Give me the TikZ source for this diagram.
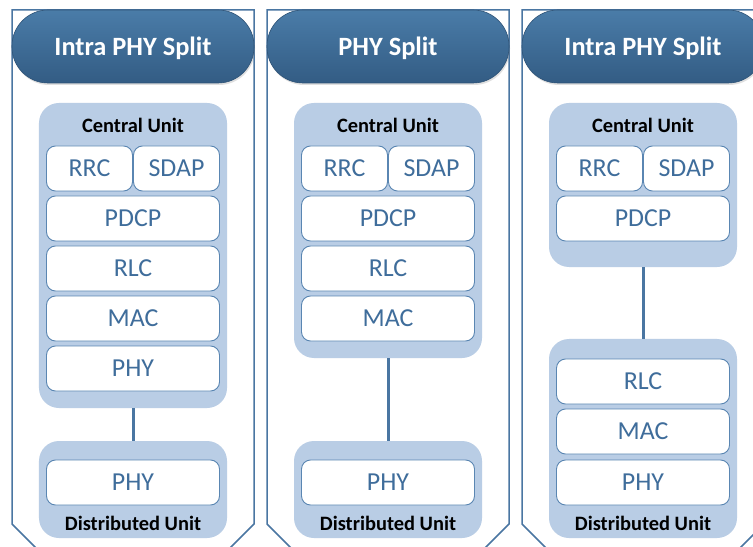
\documentclass[tikz,border=0pt]{standalone}
\usepackage{fontspec}
\setmainfont{Carlito}
\usetikzlibrary{shadows}

\definecolor{pilltop}{HTML}{4A7CA8}
\definecolor{pillbot}{HTML}{335C84}
\definecolor{panelline}{HTML}{4A76A2}
\definecolor{unitfill}{HTML}{B9CDE5}
\definecolor{cellline}{HTML}{5A86B2}
\definecolor{celltext}{HTML}{3F6D9B}

\begin{document}
\begin{tikzpicture}[x=1bp,y=-1bp,
  panel/.style={draw=panelline,line width=1.5bp},
  pill/.style={rectangle,rounded corners=36bp,minimum width=242bp,minimum height=73bp,
    top color=pilltop,bottom color=pillbot,draw=pillbot!90!black,line width=0.6bp,
    text=white,text depth=0pt,font=\fontsize{26.5}{31}\selectfont\bfseries,
    drop shadow={opacity=0.25,shadow xshift=1bp,shadow yshift=-2bp}},
  unit/.style={rectangle,rounded corners=20bp,fill=unitfill,minimum width=188bp,inner sep=0pt},
  unitlabel/.style={font=\fontsize{20.5}{24}\selectfont\bfseries,text=black,inner sep=0pt},
  cell/.style={rectangle,rounded corners=9bp,draw=cellline,line width=0.9bp,fill=white,
    minimum width=173bp,minimum height=45bp,inner sep=0pt,text=celltext,
    font=\fontsize{26}{30}\selectfont},
  half/.style={cell,minimum width=86bp},
  link/.style={draw=panelline,line width=3bp}]
\useasboundingbox (0,0) rectangle (753,547);
\clip (0,0) rectangle (753,547);
\fill[white] (0,0) rectangle (753,547);

% intra PHY split, left
\begin{scope}[xshift=12bp]
\draw[panel] (30,554) -- (0,524) -- (0,10) -- (242,10) -- (242,524) -- (212,554);
\node[pill] (headA) at (121,46.5) {Intra PHY Split};
\node[unit,minimum height=305bp] (cuA) at (121,255.5) {};
\node[unitlabel] (cuA-label) at (121,125) {Central Unit};
\node[half] (rrcA) at (77.5,168.5) {RRC};
\node[half] (sdapA) at (164.5,168.5) {SDAP};
\node[cell] (pdcpA) at (121,218.5) {PDCP};
\node[cell] (rlcA) at (121,268.5) {RLC};
\node[cell] (macA) at (121,318.5) {MAC};
\node[cell] (phyA) at (121,368.5) {PHY};
\node[unit,minimum height=97bp] (duA) at (121,489.5) {};
\node[cell] (phyA-du) at (121,482.5) {PHY};
\node[unitlabel] (duA-label) at (121,523) {Distributed Unit};
\draw[link] (cuA) -- (duA);
\end{scope}

% PHY split, middle
\begin{scope}[xshift=267bp]
\draw[panel] (30,554) -- (0,524) -- (0,10) -- (242,10) -- (242,524) -- (212,554);
\node[pill] (headB) at (121,46.5) {PHY Split};
\node[unit,minimum height=255bp] (cuB) at (121,230.5) {};
\node[unitlabel] (cuB-label) at (121,125) {Central Unit};
\node[half] (rrcB) at (77.5,168.5) {RRC};
\node[half] (sdapB) at (164.5,168.5) {SDAP};
\node[cell] (pdcpB) at (121,218.5) {PDCP};
\node[cell] (rlcB) at (121,268.5) {RLC};
\node[cell] (macB) at (121,318.5) {MAC};
\node[unit,minimum height=97bp] (duB) at (121,489.5) {};
\node[cell] (phyB-du) at (121,482.5) {PHY};
\node[unitlabel] (duB-label) at (121,523) {Distributed Unit};
\draw[link] (cuB) -- (duB);
\end{scope}

% intra PHY split, right
\begin{scope}[xshift=522bp]
\draw[panel] (30,554) -- (0,524) -- (0,10) -- (242,10) -- (242,524) -- (212,554);
\node[pill] (headC) at (121,46.5) {Intra PHY Split};
\node[unit,minimum height=164bp] (cuC) at (121,185) {};
\node[unitlabel] (cuC-label) at (121,125) {Central Unit};
\node[half] (rrcC) at (77.5,168.5) {RRC};
\node[half] (sdapC) at (164.5,168.5) {SDAP};
\node[cell] (pdcpC) at (121,218.5) {PDCP};
\node[unit,minimum height=199bp] (duC) at (121,438.5) {};
\node[cell] (rlcC-du) at (121,381.5) {RLC};
\node[cell] (macC-du) at (121,431.5) {MAC};
\node[cell] (phyC-du) at (121,482.5) {PHY};
\node[unitlabel] (duC-label) at (121,523) {Distributed Unit};
\draw[link] (cuC) -- (duC);
\end{scope}

\end{tikzpicture}
\end{document}
